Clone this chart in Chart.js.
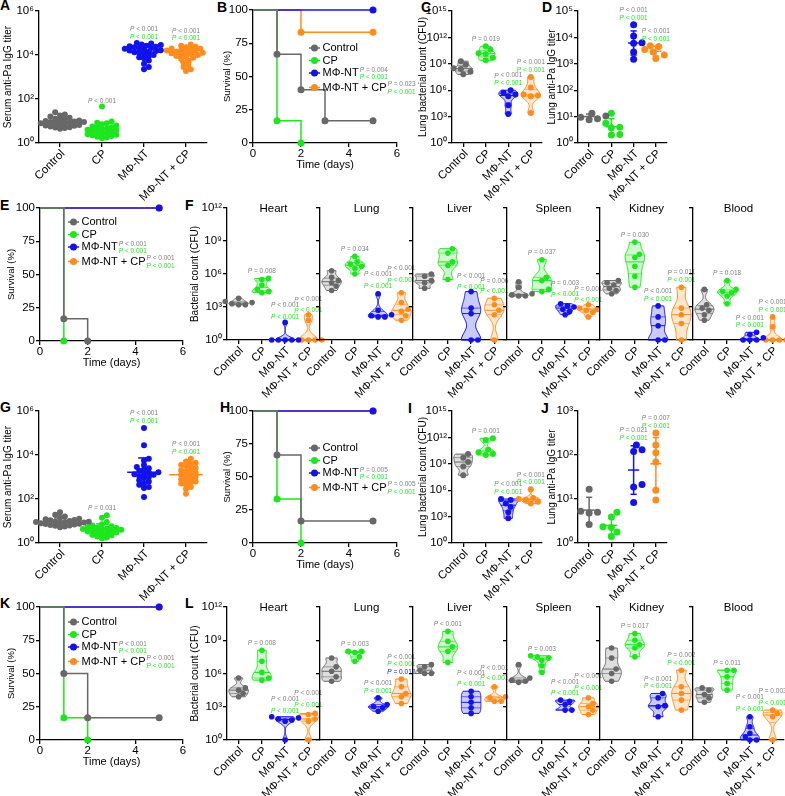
<!DOCTYPE html>
<html>
<head>
<meta charset="utf-8">
<script src="https://cdn.jsdelivr.net/npm/chart.js@4.4.0/dist/chart.umd.min.js"></script>
<style>
  body { margin: 0; background: #fff; width: 785px; height: 796px; position: relative; overflow: hidden; }
  .tag { position: absolute; font: bold 14px 'Liberation Sans', Arial, sans-serif; line-height: 14px; color: #000; }
</style>
</head>
<body>
<div class="tag" style="left:0px;top:-2px">A</div>
<div class="tag" style="left:217px;top:0px">B</div>
<div class="tag" style="left:421px;top:0px">C</div>
<div class="tag" style="left:542px;top:0px">D</div>
<div class="tag" style="left:0px;top:198px">E</div>
<div class="tag" style="left:185px;top:198px">F</div>
<div class="tag" style="left:0px;top:400px">G</div>
<div class="tag" style="left:220px;top:400px">H</div>
<div class="tag" style="left:408px;top:401px">I</div>
<div class="tag" style="left:541px;top:401px">J</div>
<div class="tag" style="left:0px;top:596px">K</div>
<div class="tag" style="left:185px;top:596px">L</div>
<script>
const FONT = "'Liberation Sans', Arial, sans-serif";
Chart.defaults.font.family = FONT;
Chart.defaults.color = '#000';

const GROUPS = ['Control', 'CP', 'MΦ-NT', 'MΦ-NT + CP'];
const COLORS = ['#686868', '#1ee61e', '#1212ee', '#ff8c1c'];
const PCOL = { grey: '#808080', green: '#1ee61e', blue: '#1212ee' };

// ---- values, all log10 except survival (%) ----
// A: serum anti-Pa IgG titer
const serumA = [
  [1.40, 1.30, 1.25, 1.20, 1.15, 1.10, 1.08, 1.05, 1.02, 1.00, 0.98, 0.96, 0.95, 0.93, 0.90, 0.90, 0.88, 0.85, 0.82, 0.80, 0.78, 0.75, 0.72, 0.70, 0.68, 0.65],
  [1.66, 0.98, 0.92, 0.90, 0.85, 0.80, 0.75, 0.72, 0.70, 0.66, 0.62, 0.60, 0.58, 0.55, 0.52, 0.50, 0.45, 0.42, 0.40, 0.38, 0.35, 0.32, 0.28, 0.25, 0.22],
  [4.55, 4.52, 4.48, 4.45, 4.42, 4.40, 4.38, 4.35, 4.32, 4.30, 4.28, 4.25, 4.22, 4.20, 4.18, 4.15, 4.12, 4.10, 4.05, 4.00, 3.95, 3.90, 3.85, 3.75, 3.60, 3.45, 3.35],
  [4.48, 4.42, 4.38, 4.35, 4.30, 4.28, 4.25, 4.22, 4.20, 4.18, 4.15, 4.12, 4.10, 4.08, 4.05, 4.02, 4.00, 3.95, 3.92, 3.88, 3.82, 3.75, 3.65, 3.55, 3.45, 3.35, 3.27]
];
// C: lung bacterial count (CFU)
const lungC = [
  [9.3, 8.9, 8.5, 8.4, 8.1, 7.8],
  [11.0, 10.6, 10.2, 10.1, 9.7, 9.4],
  [6.0, 5.7, 5.5, 5.3, 4.3, 3.3],
  [7.5, 6.3, 5.5, 5.4, 5.3, 3.4]
];
// D: lung anti-Pa IgG titer
const lungIgD = [
  [1.13, 1.08, 1.02, 0.98, 0.92, 0.88],
  [1.13, 0.75, 0.60, 0.58, 0.32, 0.30],
  [4.48, 4.05, 3.80, 3.78, 3.45, 3.17],
  [3.68, 3.66, 3.54, 3.45, 3.33, 3.20]
];
// G: serum anti-Pa IgG titer
const serumG = [
  [1.40, 1.28, 1.20, 1.15, 1.10, 1.08, 1.05, 1.03, 1.00, 0.99, 0.98, 0.97, 0.96, 0.95, 0.93, 0.92, 0.90, 0.88, 0.86, 0.84, 0.82, 0.80, 0.78, 0.75, 0.72],
  [1.26, 1.15, 0.95, 0.85, 0.80, 0.76, 0.72, 0.70, 0.68, 0.66, 0.64, 0.62, 0.60, 0.58, 0.55, 0.52, 0.50, 0.48, 0.45, 0.42, 0.38, 0.35, 0.30, 0.25, 0.20],
  [5.23, 4.44, 3.83, 3.75, 3.55, 3.45, 3.40, 3.35, 3.28, 3.22, 3.20, 3.15, 3.12, 3.10, 3.05, 3.00, 2.95, 2.85, 2.80, 2.72, 2.65, 2.55, 2.50, 2.09],
  [3.83, 3.70, 3.65, 3.60, 3.55, 3.50, 3.42, 3.38, 3.30, 3.25, 3.20, 3.15, 3.10, 3.05, 3.00, 2.95, 2.90, 2.85, 2.80, 2.75, 2.70, 2.65, 2.55, 2.45, 2.24]
];
// I: lung bacterial count (CFU)
const lungI = [
  [10.1, 9.7, 9.2, 8.7, 7.7],
  [11.9, 11.7, 10.6, 10.3, 10.1, 10.0],
  [5.0, 4.9, 4.5, 4.1, 3.5, 2.8],
  [6.1, 5.1, 5.0, 4.9, 4.7, 4.5]
];
// J: lung anti-Pa IgG titer
const lungIgJ = [
  [1.22, 0.72, 0.70, 0.68, 0.42],
  [0.70, 0.59, 0.37, 0.35, 0.25, 0.15],
  [2.23, 2.12, 2.08, 1.33, 1.27, 0.92],
  [2.50, 2.23, 2.05, 1.84, 1.20, 0.98]
];
// F: bacterial count per organ
const heartF = [[3.8, 3.5, 3.4, 3.3, 3.2, 3.2], [5.6, 5.5, 5.0, 4.6, 4.4, 4.3], [1.6, 0, 0, 0, 0, 0], [2.3, 1.8, 0, 0, 0, 0]];
const lungF = [[6.3, 5.7, 5.4, 5.2, 4.9, 4.5], [7.6, 7.1, 6.9, 6.7, 6.5, 6.0], [4.2, 2.7, 2.3, 2.2, 2.1, 2.1], [4.3, 3.4, 2.8, 2.6, 2.2, 1.8]];
const liverF = [[6.0, 5.8, 5.4, 5.2, 4.7], [8.3, 7.9, 7.1, 6.8, 5.5], [4.4, 2.9, 2.4, 0, 0], [3.8, 3.2, 2.7, 2.3, 0]];
const spleenF = [[5.3, 4.8, 4.2, 4.1, 4.0, 4.0], [7.3, 5.7, 5.4, 4.6, 4.4], [3.3, 3.1, 3.0, 2.8, 2.6, 2.3], [3.2, 2.9, 2.8, 2.7, 2.5, 2.1]];
const kidneyF = [[5.4, 5.2, 5.0, 4.7, 4.5, 4.2], [8.9, 7.8, 7.5, 6.7, 5.8, 4.8], [3.1, 2.1, 1.3, 0, 0], [4.8, 2.9, 2.3, 1.5, 0]];
const bloodF = [[4.6, 3.2, 2.9, 2.7, 2.3, 1.8], [5.4, 4.6, 4.4, 4.3, 4.0, 3.3], [0.7, 0.5, 0.2, 0, 0, 0], [2.1, 1.2, 0, 0, 0, 0]];
// L: bacterial count per organ
const heartL = [[5.6, 4.7, 4.5, 4.2, 3.9], [8.1, 7.1, 6.1, 5.6, 5.4], [2.1, 2.0, 1.9, 1.8, 1.7, 0], [2.4, 2.3, 1.9, 1.7, 0]];
const lungL = [[7.4, 6.6, 6.2, 5.7, 5.3], [8.0, 8.0, 7.9, 7.5, 7.1], [3.8, 3.2, 3.0, 2.9, 2.6], [5.5, 4.8, 4.2, 3.9, 3.3]];
const liverL = [[6.8, 6.6, 6.3, 6.0, 6.0], [9.8, 8.9, 8.4, 8.0, 7.0], [4.4, 3.9, 3.4, 2.9, 2.4], [4.8, 3.9, 3.8, 3.5, 3.5]];
const spleenL = [[6.8, 5.6, 5.4, 5.3, 5.2], [7.6, 7.5, 7.4, 7.2, 6.7, 6.1], [3.6, 3.5, 3.2, 2.7, 2.7], [3.8, 3.3, 3.0, 2.7, 2.3]];
const kidneyL = [[8.3, 7.4, 6.4, 6.0, 5.3], [9.6, 9.0, 8.6, 8.3, 7.5], [4.2, 3.8, 3.1, 3.0, 2.1], [6.3, 4.8, 4.2, 3.6, 2.7]];
const bloodL = [[4.7, 4.5, 4.1, 3.8, 3.4], [6.3, 6.3, 5.7, 5.1, 4.5], [2.1, 1.2, 0.6, 0.3, 0, 0], [2.7, 2.4, 2.1, 0]];

// survival: event times (days) and survival (%)
const survB_t = [[0, 1, 2, 3, 5], [0, 1, 2], [0, 5], [0, 2, 5]];
const survB_s = [[100, 66.7, 40, 16.7, 16.7], [100, 16.7, 0], [100, 100], [100, 83.3, 83.3]];
const survE_t = [[0, 1, 2], [0, 1], [0, 5], [0, 5]];
const survE_s = [[100, 16.7, 0], [100, 0], [100, 100], [100, 100]];
const survH_t = [[0, 1, 2, 5], [0, 1, 2], [0, 5], [0, 5]];
const survH_s = [[100, 66.7, 16.7, 16.7], [100, 33.3, 0], [100, 100], [100, 100]];
const survK_t = [[0, 1, 2, 5], [0, 1, 2], [0, 5], [0, 5]];
const survK_s = [[100, 50, 16.7, 16.7], [100, 16.7, 0], [100, 100], [100, 100]];

// ---- helpers ----
const sup = n => '10' + String(n).split('').map(d => '⁰¹²³⁴⁵⁶⁷⁸⁹'[+d]).join('');
const mean = a => a.reduce((s, v) => s + v, 0) / a.length;
const sdev = a => { const m = mean(a); return Math.sqrt(a.reduce((s, v) => s + (v - m) ** 2, 0) / (a.length - 1)); };
const rgba = (hex, a) => {
  const n = parseInt(hex.slice(1), 16);
  return `rgba(${n >> 16},${(n >> 8) & 255},${n & 255},${a})`;
};

// simple beeswarm: offsets in category units, limited overlap in pixels
function swarm(vals, pxX, pxY, r, gap) {
  const idx = vals.map((v, i) => i).sort((a, b) => vals[a] - vals[b]);
  const placed = [];
  const off = vals.map(() => 0);
  idx.forEach(i => {
    const y = vals[i] * pxY;
    for (let k = 0; k < 80; k++) {
      const dx = (k % 2 ? 1 : -1) * Math.ceil(k / 2) * r * 0.8;
      if (placed.every(p => Math.hypot(p.x - dx, p.y - y) >= gap * r)) {
        placed.push({ x: dx, y });
        off[i] = dx / pxX;
        break;
      }
    }
  });
  return off;
}

function placeCanvas(L, T, R, B, yw, xh, padT, padR) {
  const w = Math.round(R - L + yw + padR), h = Math.round(B - T + padT + xh);
  const c = document.createElement('canvas');
  c.width = w;
  c.height = h;
  c.style.cssText = `position:absolute;left:${L - yw}px;top:${T - padT}px;width:${w}px;height:${h}px`;
  document.body.appendChild(c);
  return c;
}

function pText(ctx, x, y, txt, color, align) {
  const size = 6.5;
  ctx.font = `italic ${size}px ${FONT}`;
  const wP = ctx.measureText('P').width;
  ctx.font = `${size}px ${FONT}`;
  const wR = ctx.measureText(' ' + txt).width;
  const x0 = align === 'left' ? x : x - (wP + wR) / 2;
  ctx.fillStyle = color;
  ctx.textAlign = 'left';
  ctx.textBaseline = 'middle';
  ctx.font = `italic ${size}px ${FONT}`;
  ctx.fillText('P', x0, y);
  ctx.font = `${size}px ${FONT}`;
  ctx.fillText(' ' + txt, x0 + wP, y);
}

function drawViolins(chart, sets) {
  const { ctx, scales: { x, y } } = chart;
  sets.forEach((vals, i) => {
    const lo = Math.min(...vals), hi = Math.max(...vals);
    if (hi - lo < 1e-6) return;
    const h = Math.max(0.55 * sdev(vals) * Math.pow(vals.length, -0.2), 0.18);
    const dens = t => vals.reduce((s, v) => s + Math.exp(-0.5 * ((t - v) / h) ** 2), 0);
    const N = 48, ys = [], ds = [];
    for (let k = 0; k <= N; k++) {
      const t = lo + (hi - lo) * k / N;
      ys.push(t);
      ds.push(dens(t));
    }
    const dmax = Math.max(...ds), hw = 0.42;
    ctx.save();
    ctx.beginPath();
    ys.forEach((t, k) => {
      const px = x.getPixelForValue(i + 1 - hw * ds[k] / dmax), py = y.getPixelForValue(t);
      if (k) ctx.lineTo(px, py); else ctx.moveTo(px, py);
    });
    for (let k = N; k >= 0; k--) ctx.lineTo(x.getPixelForValue(i + 1 + hw * ds[k] / dmax), y.getPixelForValue(ys[k]));
    ctx.closePath();
    ctx.fillStyle = rgba(COLORS[i], 0.22);
    ctx.fill();
    ctx.strokeStyle = COLORS[i];
    ctx.lineWidth = 1;
    ctx.stroke();
    const s = [...vals].sort((a, b) => a - b);
    const q = p => {
      const pos = (s.length - 1) * p, b = Math.floor(pos);
      return s[b] + (s[Math.min(b + 1, s.length - 1)] - s[b]) * (pos - b);
    };
    [[0.5, 1], [0.25, 0.6], [0.75, 0.6]].forEach(([p, lw]) => {
      const t = q(p), d = hw * dens(t) / dmax;
      ctx.beginPath();
      ctx.moveTo(x.getPixelForValue(i + 1 - d), y.getPixelForValue(t));
      ctx.lineTo(x.getPixelForValue(i + 1 + d), y.getPixelForValue(t));
      ctx.lineWidth = lw;
      ctx.stroke();
    });
    ctx.restore();
  });
}

function drawStats(chart, sets, meanW) {
  const { ctx, scales: { x, y } } = chart;
  const seg = (x1, y1, x2, y2) => {
    ctx.beginPath();
    ctx.moveTo(x.getPixelForValue(x1), y.getPixelForValue(y1));
    ctx.lineTo(x.getPixelForValue(x2), y.getPixelForValue(y2));
    ctx.stroke();
  };
  ctx.save();
  ctx.lineWidth = 1.5;
  sets.forEach((vals, i) => {
    const m = mean(vals), s = sdev(vals), c = i + 1;
    ctx.strokeStyle = COLORS[i];
    seg(c - meanW, m, c + meanW, m);
    seg(c, m - s, c, m + s);
    seg(c - 0.14, m + s, c + 0.14, m + s);
    seg(c - 0.14, m - s, c + 0.14, m - s);
  });
  ctx.restore();
}

function drawNotes(chart, sets, notes) {
  const { ctx, scales: { x, y } } = chart;
  notes.forEach(n => {
    const px = x.getPixelForValue(n.g + 1) + (n.dx || 0);
    let py = y.getPixelForValue(Math.max(...sets[n.g])) - (n.dy || 7);
    for (let k = n.lines.length - 1; k >= 0; k--) {
      pText(ctx, px, py, n.lines[k][0], PCOL[n.lines[k][1]]);
      py -= n.sp || 7.5;
    }
  });
}

function drawHead(chart, text) {
  const { ctx, chartArea: a } = chart;
  ctx.save();
  ctx.font = `11.5px ${FONT}`;
  ctx.fillStyle = '#000';
  ctx.textAlign = 'center';
  ctx.textBaseline = 'middle';
  ctx.fillText(text, (a.left + a.right) / 2, a.top + 1);
  ctx.restore();
}

function drawLegend(chart, lg) {
  const { ctx, chartArea: a } = chart;
  const rows = [0, 12.5, 25, 39.5];
  ctx.save();
  GROUPS.forEach((g, i) => {
    const x0 = a.left + lg.x, cy = a.top + lg.y + rows[i];
    ctx.strokeStyle = COLORS[i];
    ctx.fillStyle = COLORS[i];
    ctx.lineWidth = 1.5;
    ctx.beginPath();
    ctx.moveTo(x0, cy);
    ctx.lineTo(x0 + 11, cy);
    ctx.stroke();
    ctx.beginPath();
    ctx.arc(x0 + 5.5, cy, 3.5, 0, Math.PI * 2);
    ctx.fill();
    ctx.font = `11px ${FONT}`;
    ctx.fillStyle = '#000';
    ctx.textAlign = 'left';
    ctx.textBaseline = 'middle';
    ctx.fillText(g, x0 + 13.5, cy);
    const tw = ctx.measureText(g).width;
    const p = lg.p[i];
    if (p) {
      pText(ctx, x0 + 14.5 + tw, cy - 3, p[0], PCOL.grey, 'left');
      pText(ctx, x0 + 14.5 + tw, cy + 4.5, p[1], PCOL.green, 'left');
    }
  });
  ctx.restore();
}

function extras(cfg) {
  return {
    id: 'extras',
    beforeDatasetsDraw(chart) { if (cfg.violin) drawViolins(chart, cfg.sets); },
    afterDatasetsDraw(chart) { if (cfg.stats) drawStats(chart, cfg.sets, cfg.meanW); },
    afterDraw(chart) {
      if (cfg.head) drawHead(chart, cfg.head);
      if (cfg.notes) drawNotes(chart, cfg.sets, cfg.notes);
      if (cfg.legend) drawLegend(chart, cfg.legend);
    }
  };
}

const border = { display: true, color: '#000', width: 1.3 };
const gridTicks = { drawOnChartArea: false, drawTicks: true, tickLength: 4, color: '#000', lineWidth: 1.3 };

function yAxis(min, max, ticks, fmt, title, yw, show, titleSize) {
  return {
    type: 'linear', min, max,
    afterBuildTicks: s => { s.ticks = ticks.map(value => ({ value })); },
    afterFit: s => { s.width = yw; },
    border, grid: gridTicks,
    ticks: { callback: v => (show ? fmt(v) : ''), font: { size: 11.5 }, color: '#000', padding: 1 },
    title: title ? { display: true, text: title, font: { size: titleSize || 10 }, color: '#000', padding: { top: 2, bottom: 0 } } : { display: false }
  };
}

function catPanel(cfg) {
  const xh = 62;
  const c = placeCanvas(cfg.L, cfg.T, cfg.R, cfg.B, cfg.yw, xh, 10, 6);
  const pxX = (cfg.R - cfg.L) / 4, pxY = (cfg.B - cfg.T) / cfg.yMax;
  const datasets = cfg.sets.map((vals, i) => {
    const off = swarm(vals, pxX, pxY, cfg.r, cfg.gap || 1.9);
    return {
      data: vals.map((v, k) => ({ x: i + 1 + off[k], y: v })),
      backgroundColor: COLORS[i], borderWidth: 0, pointRadius: cfg.r, clip: false
    };
  });
  new Chart(c, {
    type: 'scatter',
    data: { datasets },
    options: {
      responsive: false, animation: false, events: [], devicePixelRatio: 1,
      layout: { padding: { top: 10, right: 6, left: 0, bottom: 0 } },
      plugins: { legend: { display: false }, tooltip: { enabled: false } },
      scales: {
        x: {
          type: 'linear', min: 0.5, max: 4.5,
          afterBuildTicks: s => { s.ticks = [1, 2, 3, 4].map(value => ({ value })); },
          afterFit: s => { s.height = xh; },
          border, grid: gridTicks,
          ticks: { callback: v => GROUPS[v - 1], minRotation: 45, maxRotation: 45, autoSkip: false, labelOffset: 3, font: { size: 11.5 }, color: '#000', padding: 0 }
        },
        y: yAxis(0, cfg.yMax, cfg.yTicks, sup, cfg.yTitle, cfg.yw, cfg.labels !== false)
      }
    },
    plugins: [extras(cfg)]
  });
}

function survPanel(cfg) {
  const xh = 29, padR = 60;
  const c = placeCanvas(cfg.L, cfg.T, cfg.R, cfg.B, cfg.yw, xh, 9, padR);
  const datasets = cfg.t.map((t, i) => ({
    data: t.map((x, k) => ({ x, y: cfg.s[i][k] })),
    showLine: true, stepped: 'before',
    borderColor: COLORS[i], backgroundColor: COLORS[i], borderWidth: 1.5,
    pointRadius: t.map((x, k) => (k ? 3.5 : 0)), pointBorderWidth: 0, clip: false
  }));
  new Chart(c, {
    type: 'scatter',
    data: { datasets },
    options: {
      responsive: false, animation: false, events: [], devicePixelRatio: 1,
      layout: { padding: { top: 9, right: padR, left: 0, bottom: 0 } },
      plugins: { legend: { display: false }, tooltip: { enabled: false } },
      scales: {
        x: {
          type: 'linear', min: 0, max: 6,
          afterBuildTicks: s => { s.ticks = [0, 2, 4, 6].map(value => ({ value })); },
          afterFit: s => { s.height = xh; },
          border, grid: gridTicks,
          ticks: { font: { size: 11.5 }, color: '#000', padding: 0, maxRotation: 0 },
          title: { display: true, text: 'Time (days)', font: { size: 11 }, color: '#000', padding: { top: 0, bottom: 0 } }
        },
        y: yAxis(0, 100, [0, 25, 50, 75, 100], v => String(v), 'Survival (%)', cfg.yw, true, 9.5)
      }
    },
    plugins: [extras(cfg)]
  });
}

const lt = '< 0.001';
const two = [[lt, 'grey'], [lt, 'green']];

// ---- row 1 ----
catPanel({ L: 39, T: 11, R: 207, B: 143, yw: 39, sets: serumA, yMax: 6, yTicks: [0, 2, 4, 6],
  yTitle: 'Serum anti-Pa IgG titer', r: 3, gap: 1.45, stats: true, meanW: 0.4,
  notes: [{ g: 1, lines: [[lt, 'grey']], dy: 5 }, { g: 2, lines: two, dy: 6 }, { g: 3, lines: two, dy: 6 }] });
survPanel({ L: 253, T: 10, R: 397, B: 143, yw: 33, t: survB_t, s: survB_s,
  legend: { x: 56, y: 38, p: [null, null, ['= 0.004', lt], ['= 0.023', lt]] } });
catPanel({ L: 452, T: 11, R: 542, B: 143, yw: 37, sets: lungC, yMax: 15, yTicks: [0, 3, 6, 9, 12, 15],
  yTitle: 'Lung bacterial count (CFU)', r: 3, violin: true,
  notes: [{ g: 1, lines: [['= 0.019', 'grey']] }, { g: 2, lines: two }, { g: 3, lines: two }] });
catPanel({ L: 578, T: 11, R: 667, B: 143, yw: 34, sets: lungIgD, yMax: 5, yTicks: [0, 1, 2, 3, 4, 5],
  yTitle: 'Lung anti-Pa IgG titer', r: 3.5, stats: true, meanW: 0.25,
  notes: [{ g: 2, lines: two }, { g: 3, lines: two }] });

// ---- row 2 ----
survPanel({ L: 40, T: 208, R: 183, B: 341, yw: 36, t: survE_t, s: survE_s,
  legend: { x: 28, y: 14, p: [null, null, [lt, lt], [lt, lt]] } });
const organX = [227, 320, 413, 507, 600, 693];
const organs = ['Heart', 'Lung', 'Liver', 'Spleen', 'Kidney', 'Blood'];
const notesF = [
  [{ g: 1, lines: [['= 0.008', 'grey']] }, { g: 2, lines: two, sp: 12, dy: 5 }, { g: 3, lines: two, sp: 11, dy: 4 }],
  [{ g: 1, lines: [['= 0.034', 'grey']] }, { g: 2, lines: two, sp: 12, dy: 8 }, { g: 3, lines: two, sp: 12, dy: 12 }],
  [{ g: 2, lines: two, sp: 11, dy: 4 }, { g: 3, lines: [['= 0.006', 'grey'], [lt, 'green']], sp: 10 }],
  [{ g: 1, lines: [['= 0.037', 'grey']] }, { g: 2, lines: [['= 0.003', 'grey'], [lt, 'green']], sp: 11, dy: 9 }, { g: 3, lines: [['= 0.001', 'grey'], [lt, 'green']], sp: 11, dy: 5 }],
  [{ g: 1, lines: [['= 0.030', 'grey']] }, { g: 2, lines: two }, { g: 3, lines: [['= 0.011', 'grey'], [lt, 'green']] }],
  [{ g: 1, lines: [['= 0.018', 'grey']] }, { g: 2, lines: two }, { g: 3, lines: two }]
];
[heartF, lungF, liverF, spleenF, kidneyF, bloodF].forEach((sets, k) => {
  catPanel({ L: organX[k], T: 208, R: organX[k] + (k === 5 ? 91 : 93), B: 340, yw: k ? 24 : 40, sets, yMax: 12,
    yTicks: [0, 3, 6, 9, 12], yTitle: k ? null : 'Bacterial count (CFU)', labels: k === 0, r: 2.8,
    violin: true, head: organs[k], notes: notesF[k] });
});

// ---- row 3 ----
catPanel({ L: 39, T: 411, R: 207, B: 543, yw: 39, sets: serumG, yMax: 6, yTicks: [0, 2, 4, 6],
  yTitle: 'Serum anti-Pa IgG titer', r: 3, gap: 1.45, stats: true, meanW: 0.4,
  notes: [{ g: 1, lines: [['= 0.031', 'grey']] }, { g: 2, lines: two }, { g: 3, lines: two }] });
survPanel({ L: 253, T: 411, R: 397, B: 543, yw: 33, t: survH_t, s: survH_s,
  legend: { x: 56, y: 37, p: [null, null, ['= 0.005', lt], ['= 0.005', lt]] } });
catPanel({ L: 452, T: 411, R: 542, B: 543, yw: 37, sets: lungI, yMax: 15, yTicks: [0, 3, 6, 9, 12, 15],
  yTitle: 'Lung bacterial count (CFU)', r: 3, violin: true,
  notes: [{ g: 1, lines: [['= 0.001', 'grey']] }, { g: 2, lines: two }, { g: 3, lines: two }] });
catPanel({ L: 578, T: 411, R: 667, B: 543, yw: 34, sets: lungIgJ, yMax: 3, yTicks: [0, 1, 2, 3],
  yTitle: 'Lung anti-Pa IgG titer', r: 3.5, stats: true, meanW: 0.25,
  notes: [{ g: 2, lines: [['= 0.021', 'grey'], [lt, 'green']] }, { g: 3, lines: [['= 0.007', 'grey'], [lt, 'green']] }] });

// ---- row 4 ----
survPanel({ L: 40, T: 607, R: 183, B: 740, yw: 36, t: survK_t, s: survK_s,
  legend: { x: 28, y: 15, p: [null, null, [lt, lt], [lt, lt]] } });
const notesL = [
  [{ g: 1, lines: [['= 0.008', 'grey']] }, { g: 2, lines: two, sp: 12, dy: 6 }, { g: 3, lines: two, sp: 12, dy: 8 }],
  [{ g: 1, lines: [['= 0.003', 'grey']] }, { g: 2, lines: two }, { g: 3, lines: [[lt, 'grey'], [lt, 'green'], ['= 0.012', 'blue']] }],
  [{ g: 1, lines: [[lt, 'grey']] }, { g: 2, lines: two, sp: 11 }, { g: 3, lines: two, sp: 10, dy: 9 }],
  [{ g: 1, lines: [['= 0.003', 'grey']] }, { g: 2, lines: two, sp: 11 }, { g: 3, lines: two, sp: 12, dy: 10 }],
  [{ g: 1, lines: [['= 0.017', 'grey']] }, { g: 2, lines: two }, { g: 3, lines: [['= 0.002', 'grey'], [lt, 'green']] }],
  [{ g: 1, lines: [['= 0.011', 'grey']] }, { g: 2, lines: two, sp: 12, dy: 8 }, { g: 3, lines: [['= 0.003', 'grey'], [lt, 'green']], sp: 12, dy: 7 }]
];
[heartL, lungL, liverL, spleenL, kidneyL, bloodL].forEach((sets, k) => {
  catPanel({ L: organX[k], T: 607, R: organX[k] + (k === 5 ? 91 : 93), B: 740, yw: k ? 24 : 40, sets, yMax: 12,
    yTicks: [0, 3, 6, 9, 12], yTitle: k ? null : 'Bacterial count (CFU)', labels: k === 0, r: 2.8,
    violin: true, head: organs[k], notes: notesL[k] });
});
</script>
</body>
</html>
